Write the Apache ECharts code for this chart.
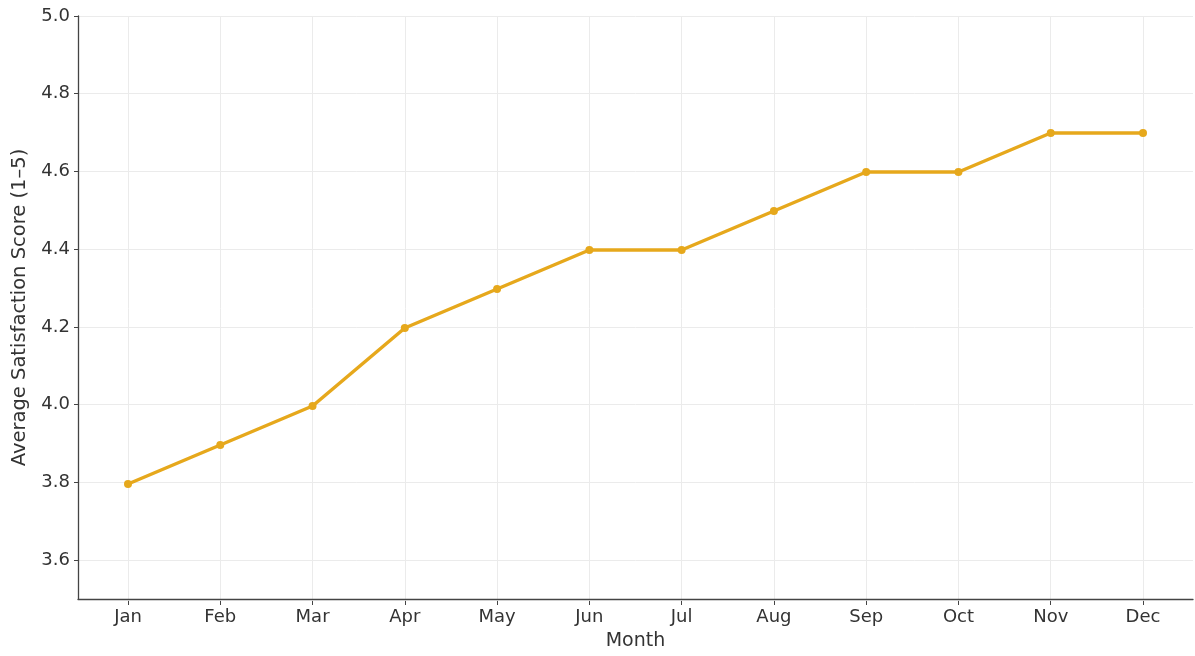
<!DOCTYPE html>
<html><head><meta charset="utf-8">
<script src="https://cdn.jsdelivr.net/npm/echarts@6/dist/echarts.min.js"></script>
<style>html,body{margin:0;padding:0;background:#fff}#c{width:1195px;height:656px}</style>
</head><body><div id="c"></div>
<script>
const months = ['Jan','Feb','Mar','Apr','May','Jun','Jul','Aug','Sep','Oct','Nov','Dec'];
const scores = [3.8, 3.9, 4.0, 4.2, 4.3, 4.4, 4.4, 4.5, 4.6, 4.6, 4.7, 4.7];
const yMin = 3.5, yMax = 5.0;
const xName = 'Month';
const yName = 'Average Satisfaction Score (1–5)';

const font = 'DejaVu Sans';
const txt = '#333';
const chart = echarts.init(document.getElementById('c'), null, {renderer:'canvas'});
chart.setOption({
  backgroundColor:'#fff',
  animation:false,
  textStyle:{fontFamily:font},
  grid:[
    {left:78, right:2, top:16, bottom:55},
    {left:128, right:52, top:16, bottom:55}
  ],
  xAxis:[
    {gridIndex:0, type:'value', min:0, max:1, axisLabel:{show:false}, axisTick:{show:false}, splitLine:{show:false},
     axisLine:{show:true, lineStyle:{color:'#444', width:1.3}},
     name:xName, nameLocation:'middle', nameGap:33, nameTextStyle:{fontSize:19, color:txt, fontFamily:font}},
    {gridIndex:1, type:'category', data:months, boundaryGap:false,
     axisLine:{show:false},
     axisTick:{show:true, length:4, lineStyle:{color:'#444'}},
     axisLabel:{fontSize:18, color:txt, margin:7, fontFamily:font},
     splitLine:{show:true, lineStyle:{color:'#ebebeb', width:1}}}
  ],
  yAxis:[
    {gridIndex:0, type:'value', min:yMin, max:yMax, splitNumber:7, minInterval:0.2, maxInterval:0.2,
     axisLine:{show:true, lineStyle:{color:'#444', width:1.3}},
     axisTick:{show:true, length:4, lineStyle:{color:'#444'}},
     axisLabel:{showMinLabel:false, fontSize:18, color:txt, margin:8, fontFamily:font, formatter:v=>v.toFixed(1)},
     splitLine:{show:true, lineStyle:{color:'#ebebeb', width:1}},
     name:yName, nameLocation:'middle', nameGap:48, nameTextStyle:{fontSize:19.5, color:txt, fontFamily:font}},
    {gridIndex:1, type:'value', min:yMin, max:yMax, show:false, splitLine:{show:false}}
  ],
  series:[{
    type:'line', xAxisIndex:1, yAxisIndex:1, data:scores,
    symbol:'circle', symbolSize:8,
    lineStyle:{color:'#e6a81c', width:3.5},
    itemStyle:{color:'#e6a81c'}
  }]
});
</script></body></html>
